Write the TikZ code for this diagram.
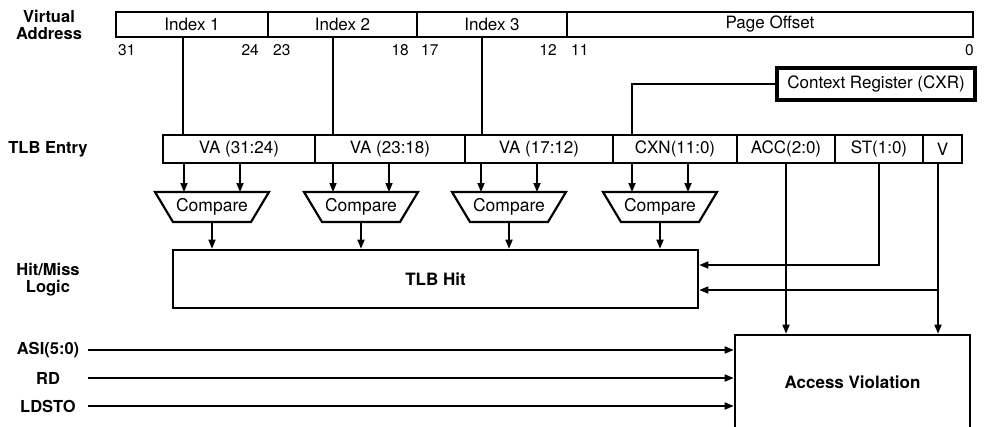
\documentclass[tikz,border=0pt]{standalone}
\usepackage{fontspec}
\setmainfont{TeX Gyre Heros}
\usetikzlibrary{arrows.meta,calc}
\begin{document}
\begin{tikzpicture}[x=1pt,y=-1pt,
  ln/.style={line width=1.6pt},
  arr/.style={ln,-{Triangle[length=9pt,width=7pt]}},
  fld/.style={draw,line width=2.2pt,minimum height=25pt,inner sep=0pt,font=\fontsize{17}{20}\selectfont},
  ent/.style={draw,line width=1.8pt,minimum height=28pt,inner sep=0pt,font=\fontsize{17}{20}\selectfont},
  num/.style={inner sep=0pt,font=\fontsize{15.5}{15.5}\selectfont},
  cxrbox/.style={draw,line width=3.4pt,inner sep=0pt,font=\fontsize{17}{20}\selectfont},
  bigbox/.style={draw,line width=2.6pt,inner sep=0pt,font=\bfseries\fontsize{17}{20}\selectfont},
  cmp/.style={inner sep=0pt,font=\fontsize{17.5}{20}\selectfont},
  trap/.style={line width=2.2pt,line join=miter},
  lbl/.style={inner sep=0pt,font=\bfseries\fontsize{16.5}{17}\selectfont}]
\useasboundingbox (0,0) rectangle (984,426);
\fill[white] (0,0) rectangle (984,426);
\clip (0,0) rectangle (984,426);

% left labels
\node[lbl,align=center] (va) at (49,25) {Virtual\\Address};
\node[lbl] (tlbe) at (48,149) {TLB Entry};
\node[lbl,align=center] (hm) at (48,280) {Hit/Miss\\Logic};
\node[lbl] (asi) at (48,350) {ASI(5:0)};
\node[lbl] (rd) at (48,378) {RD};
\node[lbl] (ldsto) at (48,406) {LDSTO};

% virtual address
\node[fld,minimum width=152pt] (i1) at (192,24.5) {Index 1};
\node[fld,minimum width=149pt] (i2) at (342.5,24.5) {Index 2};
\node[fld,minimum width=150pt] (i3) at (492,24.5) {Index 3};
\node[fld,minimum width=406pt] (po) at (770,24.5) {Page Offset};

\node[num,anchor=base west] (b31) at (118,55) {31};
\node[num,anchor=base east] (b24) at (259,55) {24};
\node[num,anchor=base west] (b23) at (273,55) {23};
\node[num,anchor=base east] (b18) at (409,55) {18};
\node[num,anchor=base west] (b17) at (421,55) {17};
\node[num,anchor=base east] (b12) at (557,55) {12};
\node[num,anchor=base west] (b11) at (571,55) {11};
\node[num,anchor=base east] (b0) at (974,55) {0};

% context register
\node[cxrbox,minimum width=198pt,minimum height=32pt] (cxr) at (876,84) {Context Register (CXR)};

% TLB entry
\node[ent,minimum width=152pt] (e1) at (239,149) {VA (31:24)};
\node[ent,minimum width=150pt] (e2) at (390,149) {VA (23:18)};
\node[ent,minimum width=148pt] (e3) at (539,149) {VA (17:12)};
\node[ent,minimum width=124pt] (e4) at (675,149) {CXN(11:0)};
\node[ent,minimum width=98pt] (e5) at (786,149) {ACC(2:0)};
\node[ent,minimum width=88pt] (e6) at (879,149) {ST(1:0)};
\node[ent,minimum width=39pt] (e7) at (942.5,149) {V};

% index lines
\draw[ln] ([xshift=-9pt]i1.south) -- ([xshift=-9pt]i1.south |- e1.north);
\draw[ln] ([xshift=-9.5pt]i2.south) -- ([xshift=-9.5pt]i2.south |- e2.north);
\draw[ln] ([xshift=-10pt]i3.south) -- ([xshift=-10pt]i3.south |- e3.north);
\draw[ln] (cxr.west) -| ([xshift=-43pt]e4.north);

% TLB hit and access violation
\node[bigbox,minimum width=525pt,minimum height=58pt] (hit) at (435.5,279) {TLB Hit};
\node[bigbox,minimum width=235pt,minimum height=94pt] (av) at (852.5,382) {Access Violation};

% compare units
\node[cmp] (c1) at (212,207) {Compare};
\node[cmp] (c2) at (361,207) {Compare};
\node[cmp] (c3) at (509,207) {Compare};
\node[cmp] (c4) at (660,207) {Compare};
\foreach \c/\e in {c1/e1,c2/e2,c3/e3,c4/e4}{
  \draw[trap] ($(\c)+(-57,-15)$) -- ($(\c)+(57,-15)$) -- ($(\c)+(39,15)$) -- ($(\c)+(-39,15)$) -- cycle;
  \coordinate (\c a) at ($(\c)+(-28,-15)$);
  \coordinate (\c b) at ($(\c)+(28,-15)$);
  \coordinate (\c o) at ($(\c)+(0,15)$);
  \draw[arr] (\c a |- \e.south) -- (\c a);
  \draw[arr] (\c b |- \e.south) -- (\c b);
  \draw[arr] (\c o) -- (\c o |- hit.north);
}

% status lines
\draw[arr] (e5.south) -- (e5.south |- av.north);
\draw[arr] (e6.south) |- ($(hit.east)+(0,-14)$);
\coordinate (vx) at ([xshift=-4.5pt]e7.south);
\coordinate (vb) at ($(hit.east)+(0,11)$);
\draw[arr] (vx) -- (vx |- av.north);
\draw[arr] (vx |- vb) -- (vb);

% inputs
\coordinate (asiS) at (88,350);
\coordinate (rdS) at (88,378);
\coordinate (ldS) at (88,406);
\draw[arr] (asiS) -- (asiS -| av.west);
\draw[arr] (rdS) -- (rdS -| av.west);
\draw[arr] (ldS) -- (ldS -| av.west);
\end{tikzpicture}
\end{document}
